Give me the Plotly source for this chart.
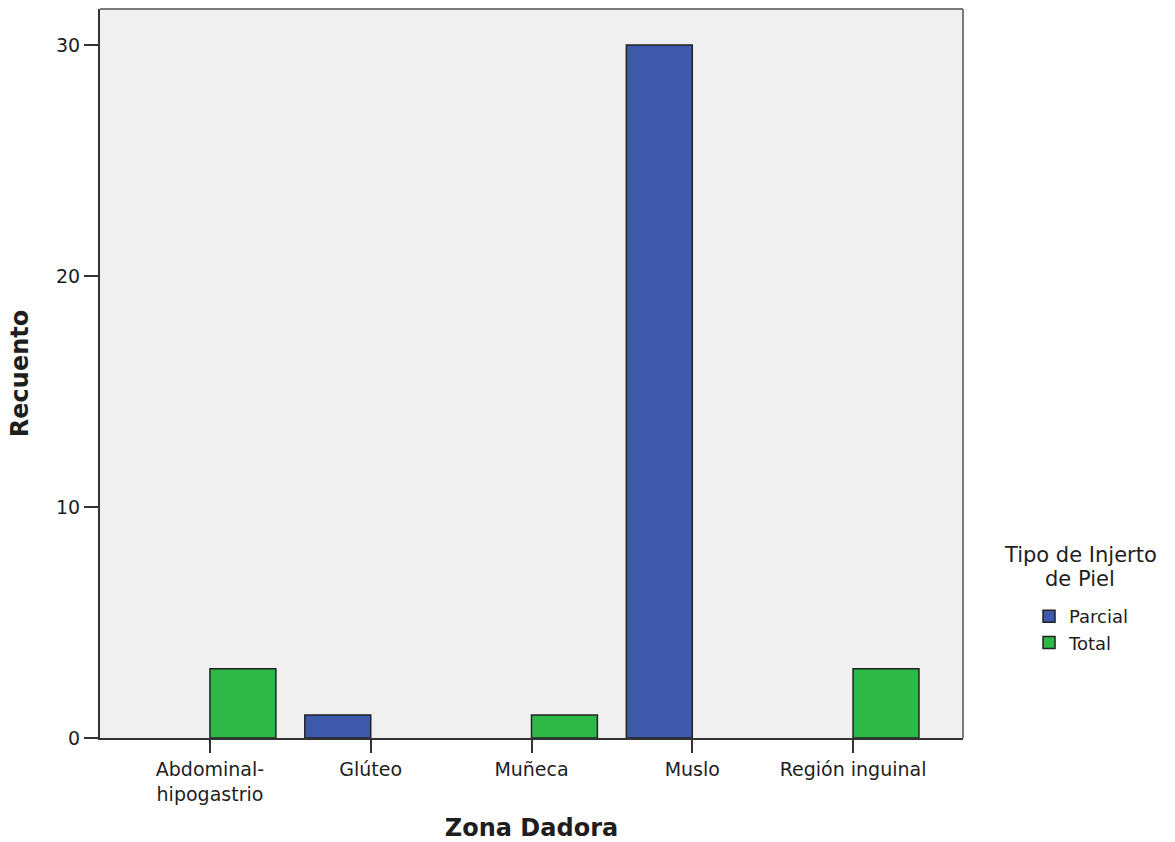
import plotly.graph_objects as go

# Donor zone categories and counts per graft type
zonas = ["Abdominal-<br>hipogastrio", "Glúteo", "Muñeca", "Muslo", "Región inguinal"]
parcial = [None, 1, None, 30, None]
total = [3, None, 1, None, 3]
y_ticks = [0, 10, 20, 30]

fig = go.Figure()
fig.add_trace(go.Bar(
    x=zonas, y=parcial, name="Parcial",
    marker=dict(color="#3E58AC", line=dict(color="#222222", width=1.5)),
))
fig.add_trace(go.Bar(
    x=zonas, y=total, name="Total",
    marker=dict(color="#2EB848", line=dict(color="#222222", width=1.5)),
))

font = "DejaVu Sans, Verdana, sans-serif"
txt = "#1e1e1e"
fig.update_layout(
    width=1175, height=842,
    margin=dict(l=100, r=212, t=9, b=104, autoexpand=False),
    paper_bgcolor="white",
    plot_bgcolor="#F0F0F0",
    barmode="group",
    bargap=0.18,
    bargroupgap=0,
    font=dict(family=font, color=txt, size=19),
    showlegend=True,
    legend=dict(
        x=1.0765, y=(738 - 598) / 729, xanchor="left", yanchor="top",
        font=dict(size=18, family=font, color=txt),
        tracegroupgap=0, itemwidth=30,
        bgcolor="rgba(0,0,0,0)",
    ),
    annotations=[
        dict(text="Tipo de Injerto", xref="paper", yref="paper",
             x=1.1356, y=(738 - 555) / 729, xanchor="center", yanchor="middle",
             showarrow=False, font=dict(size=21, family=font, color=txt)),
        dict(text="de Piel", xref="paper", yref="paper",
             x=1.1356, y=(738 - 579) / 729, xanchor="center", yanchor="middle",
             showarrow=False, font=dict(size=21, family=font, color=txt)),
    ],
    shapes=[
        # lighter frame on the top and right edges of the plot area
        dict(type="line", xref="paper", yref="paper", x0=0, x1=1, y0=1, y1=1,
             line=dict(color="#7a7a7a", width=2)),
        dict(type="line", xref="paper", yref="paper", x0=1, x1=1, y0=0, y1=1,
             line=dict(color="#7a7a7a", width=2)),
    ],
)
fig.update_xaxes(
    type="category",
    range=[-0.684, 4.684],
    automargin=False,
    showline=True, linecolor="#333333", linewidth=2,
    ticks="outside", ticklen=13, tickwidth=2, tickcolor="#333333",
    showgrid=False, zeroline=False,
    tickfont=dict(size=19, family=font, color=txt),
    title=dict(text="<b>Zona Dadora</b>", font=dict(size=24, family=font, color=txt), standoff=28),
)
fig.update_yaxes(
    range=[0, 31.56],
    tickvals=y_ticks,
    automargin=False,
    showline=True, linecolor="#333333", linewidth=2,
    ticks="outside", ticklen=14, tickwidth=2, tickcolor="#333333",
    showgrid=False, zeroline=False,
    tickfont=dict(size=19, family=font, color=txt),
    title=dict(text="<b>Recuento</b>", font=dict(size=24, family=font, color=txt), standoff=21),
)

fig.write_html("out.html")
